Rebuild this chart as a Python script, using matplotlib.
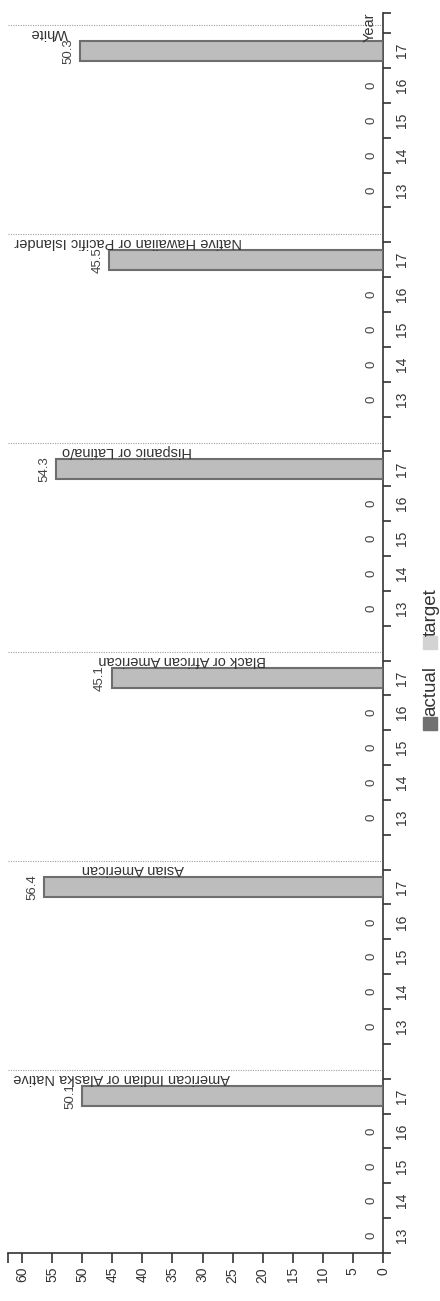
import numpy as np
import matplotlib.pyplot as plt
from matplotlib.patches import Rectangle

plt.rcParams['font.family'] = ['Liberation Sans', 'DejaVu Sans']

# data
groups = ['American Indian or Alaska Native', 'Asian American',
          'Black or African American', 'Hispanic or Latina/o',
          'Native Hawaiian or Pacific Islander', 'White']
years = [13, 14, 15, 16, 17]
american_indian = [0, 0, 0, 0, 50.1]
asian_american = [0, 0, 0, 0, 56.4]
black_african_american = [0, 0, 0, 0, 45.1]
hispanic_latino = [0, 0, 0, 0, 54.3]
native_hawaiian = [0, 0, 0, 0, 45.5]
white = [0, 0, 0, 0, 50.3]
series = [american_indian, asian_american, black_african_american,
          hispanic_latino, native_hawaiian, white]

# where the upside-down panel titles start (value units, axis is reversed)
title_x = [61.5, 50.0, 47.3, 53.3, 61.3, 58.6]

W, H = 440, 1301
fig = plt.figure(figsize=(W / 100, H / 100), dpi=100)
ax = fig.add_axes([8 / W, 48 / H, 375 / W, 1240 / H])

txt = '#333333'
slot = len(years) + 1
for g, vals in enumerate(series):
    pos = np.arange(len(years)) + g * slot
    vals = np.array(vals, dtype=float)
    m = vals > 0
    ax.barh(pos[m], vals[m], height=0.58, color='#bdbdbd',
            edgecolor='#6e6e6e', linewidth=1.5, zorder=3)
    for p, v in zip(pos, vals):
        lab = '0' if v == 0 else f'{v:.1f}'
        ax.annotate(lab, (v, p), xytext=(-4, 0), textcoords='offset points',
                    ha='right', va='center', rotation=90, fontsize=9.5,
                    color='#444444', zorder=2)
    ax.text(title_x[g], pos[-1] + 0.31, groups[g], rotation=180,
            ha='left', va='bottom', fontsize=10.5, color=txt, zorder=4)
    ax.axhline(pos[-1] + 0.75, xmin=0.0, xmax=0.995, color='#a0a0a0',
               linestyle=(0, (1, 1.2)), linewidth=0.8, zorder=1)

ymax = 35.08
xmax = 62.33
ax.set_xlim(xmax, 0)
ax.set_ylim(-0.5, ymax)

for s in ['left', 'top']:
    ax.spines[s].set_visible(False)
for s in ['right', 'bottom']:
    ax.spines[s].set_color(txt)
    ax.spines[s].set_linewidth(1.2)

ax.yaxis.tick_right()
all_pos = [g * slot + i for g in range(len(groups)) for i in range(len(years))]
ax.set_yticks(all_pos)
ax.set_yticklabels([str(y) for _ in groups for y in years])
ax.set_yticks(list(np.arange(-0.5, ymax, 1.0)) + [ymax], minor=True)
ax.tick_params(axis='y', which='major', length=0, pad=14, labelsize=10,
               labelcolor=txt, labelrotation=90)
ax.tick_params(axis='y', which='minor', length=6, width=1.2, color=txt)
for t in ax.get_yticklabels():
    t.set_va('center')
    t.set_ha('center')

ax.set_xticks(np.arange(0, 61, 5))
ax.set_xticks([xmax], minor=True)
ax.tick_params(axis='x', which='both', length=7, width=1.2, color=txt,
               labelsize=10, labelcolor=txt, labelrotation=90, pad=3)

fig.text(370 / W, 1 - 27 / H, 'Year', rotation=90, ha='center', va='center',
         fontsize=10.5, color=txt)

# legend, drawn sideways like the rest
fig.add_artist(Rectangle((423 / W, (H - 730) / H), 14 / W, 13 / H,
                         transform=fig.transFigure, color='#707070'))
fig.text(431 / W, (H - 716) / H, 'actual', rotation=90, ha='center',
         va='bottom', fontsize=13.5, color=txt)
fig.add_artist(Rectangle((423 / W, (H - 649) / H), 14 / W, 13 / H,
                         transform=fig.transFigure, color='#d3d3d3'))
fig.text(431 / W, (H - 636) / H, 'target', rotation=90, ha='center',
         va='bottom', fontsize=13.5, color=txt)

fig.savefig('out.png', dpi=100)
